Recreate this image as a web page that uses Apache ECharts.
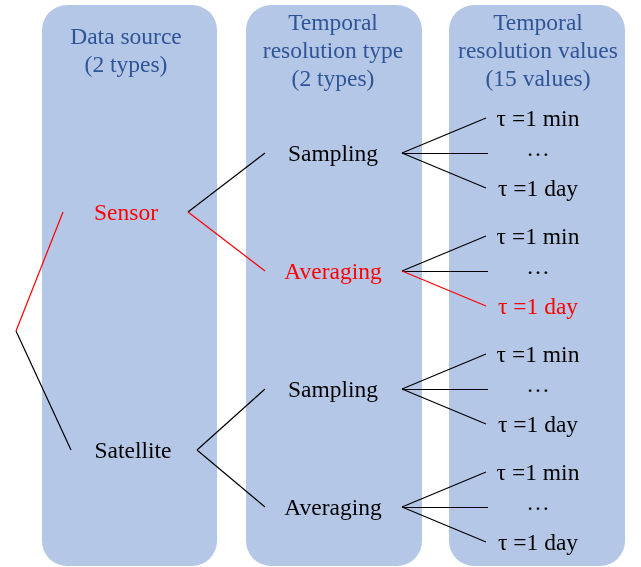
<!DOCTYPE html>
<html>
<head>
<meta charset="utf-8">
<script src="https://cdn.jsdelivr.net/npm/echarts@6/dist/echarts.min.js"></script>
<style>
  html, body { margin: 0; padding: 0; background: #ffffff; }
  #chart { width: 641px; height: 567px; }
</style>
</head>
<body>
<div id="chart"></div>
<script>
// ---- data ----
const headers = ['Data source\n(2 types)', 'Temporal\nresolution type\n(2 types)', 'Temporal\nresolution values\n(15 values)'];
const sources = ['Sensor', 'Satellite'];
const types = ['Sampling', 'Averaging'];
const values = ['τ =1 min', '…', 'τ =1 day'];
const highlightPath = ['Sensor', 'Averaging', 'τ =1 day'];

// ---- layout (positions in the 641x567 canvas coordinate space) ----
const W = 641, H = 567;
const panelX = [[42, 217], [246, 422], [449, 625]];
const panelTop = 5, panelBottom = 566, panelRadius = 25;
const headerY = 52;
const textShift = 2;
const valueTextShift = [0, -5, 0];
const colX = [126, 333, 538];
const sourceLabelX = [126, 133];
const groupY0 = 153, groupStep = 118, leafOff = 35;
const rootPt = [16, 0];
const sourceInX = [63, 71];
const sourceOutX = [188, 197];
const typeInX = 265, typeOutX = 402, valueInX = [486, 488, 486];

const RED = '#ff0000', BLACK = '#000000', HEAD = '#2f5597';
const FONT = "23.5px 'Liberation Serif'";

const labelData = [];
const edgeData = [];

headers.forEach((h, i) => {
  labelData.push({ value: [colX[i], headerY], name: h, color: HEAD });
});

const sourceY = [];
sources.forEach((s, si) => {
  const g0 = groupY0 + groupStep * (si * 2);
  const g1 = groupY0 + groupStep * (si * 2 + 1);
  const sy = (g0 + g1) / 2 + (si === 1 ? 2 : 0);
  sourceY.push(sy);
  const sHi = highlightPath[0] === s;
  labelData.push({ value: [sourceLabelX[si], sy + textShift], name: s, color: sHi ? RED : BLACK });
  types.forEach((t, ti) => {
    const ty = groupY0 + groupStep * (si * 2 + ti);
    const tHi = sHi && highlightPath[1] === t;
    labelData.push({ value: [colX[1], ty + textShift], name: t, color: tHi ? RED : BLACK });
    edgeData.push({ coords: [[sourceOutX[si], sy], [typeInX, ty]], lineStyle: { color: tHi ? RED : BLACK } });
    values.forEach((v, vi) => {
      const vy = ty + (vi - 1) * leafOff;
      const vHi = tHi && highlightPath[2] === v;
      labelData.push({ value: [colX[2], vy + textShift + valueTextShift[vi]], name: v, color: vHi ? RED : BLACK });
      edgeData.push({ coords: [[typeOutX, ty], [valueInX[vi], vy]], lineStyle: { color: vHi ? RED : BLACK } });
    });
  });
});
rootPt[1] = (sourceY[0] + sourceY[1]) / 2;
sources.forEach((s, si) => {
  edgeData.push({
    coords: [rootPt, [sourceInX[si], sourceY[si]]],
    lineStyle: { color: highlightPath[0] === s ? RED : BLACK }
  });
});

const chart = echarts.init(document.getElementById('chart'), null, { renderer: 'canvas' });
chart.setOption({
  animation: false,
  backgroundColor: '#ffffff',
  grid: { left: 0, right: 0, top: 0, bottom: 0 },
  xAxis: { type: 'value', min: 0, max: W, show: false },
  yAxis: { type: 'value', min: 0, max: H, inverse: true, show: false },
  series: [
    {
      type: 'custom',
      silent: true,
      z: 1,
      data: panelX.map(p => [p[0], p[1]]),
      encode: { x: [0, 1] },
      renderItem: function (params, api) {
        const p0 = api.coord([api.value(0), panelTop]);
        const p1 = api.coord([api.value(1), panelBottom]);
        return {
          type: 'rect',
          shape: { x: p0[0], y: p0[1], width: p1[0] - p0[0], height: p1[1] - p0[1], r: panelRadius },
          style: { fill: '#b4c7e7' }
        };
      }
    },
    {
      type: 'lines',
      coordinateSystem: 'cartesian2d',
      silent: true,
      z: 2,
      lineStyle: { width: 1.2, opacity: 1, curveness: 0 },
      data: edgeData
    },
    {
      type: 'custom',
      silent: true,
      z: 3,
      data: labelData.map(d => [d.value[0], d.value[1]]),
      encode: { x: 0, y: 1 },
      renderItem: function (params, api) {
        const d = labelData[params.dataIndex];
        const p = api.coord([api.value(0), api.value(1)]);
        return {
          type: 'text',
          x: p[0],
          y: p[1],
          style: {
            text: d.name,
            font: FONT,
            fill: d.color,
            align: 'center',
            verticalAlign: 'middle',
            lineHeight: 28
          }
        };
      }
    }
  ]
});
</script>
</body>
</html>
